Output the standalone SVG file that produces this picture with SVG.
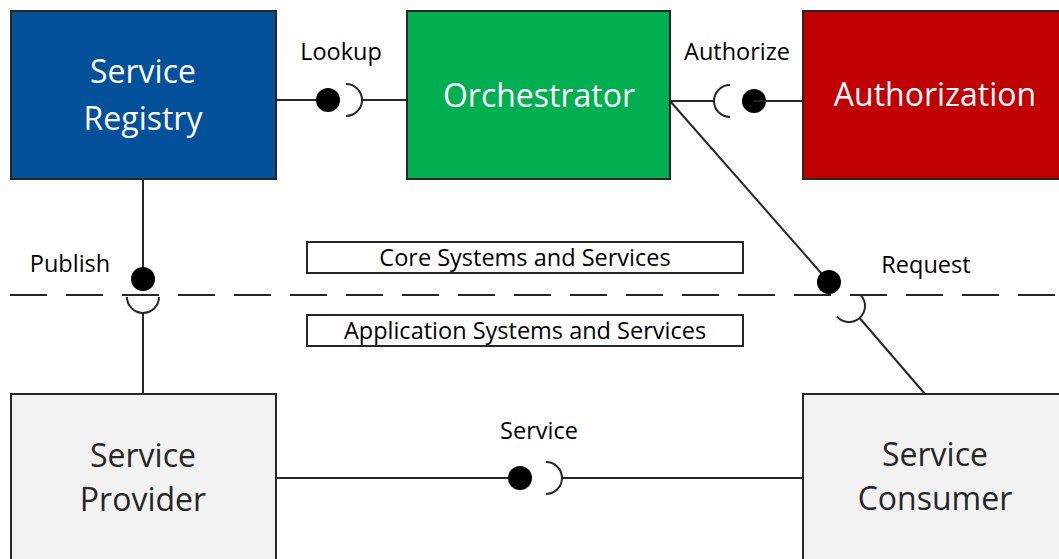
<svg xmlns="http://www.w3.org/2000/svg" width="1059" height="559" viewBox="0 0 1059 559">
<style>
.box{stroke:#262626;stroke-width:2}
.big{font-family:"Open Sans","Liberation Sans",sans-serif;font-size:32px;text-anchor:middle}
.lbl{font-family:"Open Sans","Liberation Sans",sans-serif;font-size:23.5px;fill:#000;text-anchor:middle}
.ln{stroke:#262626;stroke-width:2;fill:none}
.ball{fill:#000}
</style>
<rect width="1059" height="559" fill="#fff"/>
<g id="connectors">
<line class="ln" x1="10" y1="295" x2="1059" y2="295" stroke-dasharray="37 19"/>
<!-- Lookup -->
<line class="ln" x1="276" y1="100" x2="316" y2="100"/>
<circle class="ball" cx="328" cy="100" r="12"/>
<path class="ln" d="M346,84 A16,16 0 0 1 346,116"/>
<line class="ln" x1="362" y1="100" x2="407" y2="100"/>
<!-- Authorize -->
<line class="ln" x1="670" y1="101" x2="714" y2="101"/>
<path class="ln" d="M730,85 A16,16 0 0 0 730,117"/>
<circle class="ball" cx="754" cy="101" r="12"/>
<line class="ln" x1="754" y1="101" x2="803" y2="101"/>
<!-- Publish -->
<line class="ln" x1="143" y1="179" x2="143" y2="279"/>
<circle class="ball" cx="143" cy="279" r="12"/>
<path class="ln" d="M127,297 A16,16 0 0 0 159,297"/>
<line class="ln" x1="143" y1="313" x2="143" y2="394"/>
<!-- Request -->
<line class="ln" x1="670" y1="101" x2="829" y2="282"/>
<circle class="ball" cx="829" cy="282" r="12"/>
<path class="ln" d="M837,316.6 A16,16 0 0 0 861,295.4"/>
<line class="ln" x1="859.6" y1="318" x2="925" y2="394"/>
<!-- Service -->
<line class="ln" x1="276" y1="478" x2="508" y2="478"/>
<circle class="ball" cx="520" cy="478" r="12"/>
<path class="ln" d="M546,462 A16,16 0 0 1 546,494"/>
<line class="ln" x1="562" y1="478" x2="803" y2="478"/>
</g>
<g id="labels">
<text class="lbl" x="341" y="60">Lookup</text>
<text class="lbl" x="737" y="60">Authorize</text>
<text class="lbl" x="70" y="272">Publish</text>
<text class="lbl" x="926" y="273">Request</text>
<text class="lbl" x="539" y="439">Service</text>
</g>
<g id="core">
<rect x="307" y="242" width="436" height="31" fill="#fff" stroke="#262626" stroke-width="2"/>
<text class="lbl" x="525" y="266">Core Systems and Services</text>
</g>
<g id="application">
<rect x="307" y="315" width="436" height="31" fill="#fff" stroke="#262626" stroke-width="2"/>
<text class="lbl" x="525" y="339">Application Systems and Services</text>
</g>
<g id="registry">
<rect class="box" x="11" y="11" width="265" height="168" fill="#03519A"/>
<text class="big" x="143" y="83" fill="#fff">Service</text>
<text class="big" x="143" y="130" fill="#fff">Registry</text>
</g>
<g id="orchestrator">
<rect class="box" x="407" y="11" width="263" height="168" fill="#00B050"/>
<text class="big" x="539" y="107" fill="#fff">Orchestrator</text>
</g>
<g id="authorization">
<rect class="box" x="803" y="11" width="270" height="168" fill="#C00000"/>
<text class="big" x="935" y="106" fill="#fff">Authorization</text>
</g>
<g id="provider">
<rect class="box" x="11" y="394" width="265" height="180" fill="#F2F2F2"/>
<text class="big" x="143" y="467" fill="#262626">Service</text>
<text class="big" x="143" y="511" fill="#262626">Provider</text>
</g>
<g id="consumer">
<rect class="box" x="803" y="394" width="270" height="180" fill="#F2F2F2"/>
<text class="big" x="935" y="466" fill="#262626">Service</text>
<text class="big" x="935" y="510" fill="#262626">Consumer</text>
</g>
</svg>
